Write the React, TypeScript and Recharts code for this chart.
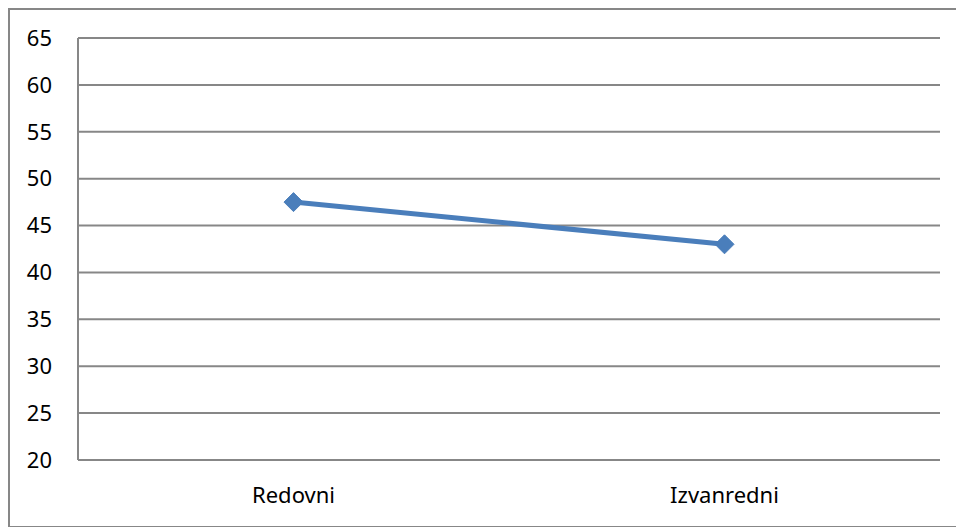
import { LineChart, Line, XAxis, YAxis, CartesianGrid } from "recharts";

const categories = ["Redovni", "Izvanredni"];
const values = [47.5, 43];
const yTicks = [20, 25, 30, 35, 40, 45, 50, 55, 60, 65];

const data = categories.map((name, i) => ({ name, value: values[i] }));

const gridColor = "#878787";
const lineColor = "#4a7ebb";
const font = "'Noto Sans', sans-serif";

function Diamond(props: any) {
  const { cx, cy } = props;
  if (cx == null || cy == null) return null;
  const r = 9.5;
  return (
    <path
      d={`M${cx},${cy - r} L${cx + r},${cy} L${cx},${cy + r} L${cx - r},${cy} Z`}
      fill={lineColor}
      stroke={lineColor}
      strokeWidth={1} />);
}

export default function App() {
  return (
    <div style={{ position: "absolute", left: 0, top: 0, width: 956, height: 527, overflow: "hidden", background: "#fff" }}>
      <div
        style={{
          position: "absolute",
          left: 8,
          top: 8,
          width: 960,
          height: 516,
          border: `2px solid ${gridColor}`
        }} />
      <div style={{ position: "absolute", left: 0, top: 0 }}>
        <LineChart
          width={956}
          height={527}
          data={data}
          margin={{ top: 38, right: 16, bottom: 37, left: 0 }}>
          <CartesianGrid vertical={false} stroke={gridColor} strokeWidth={2} />
          <XAxis
            dataKey="name"
            scale="band"
            axisLine={{ stroke: gridColor, strokeWidth: 2 }}
            tickLine={false}
            tickSize={0}
            tickMargin={27}
            tick={{ fill: "#000", fontSize: 22, fontFamily: font }} />
          <YAxis
            width={78}
            domain={[20, 65]}
            ticks={yTicks}
            interval={0}
            axisLine={{ stroke: gridColor, strokeWidth: 2 }}
            tickLine={false}
            tickSize={0}
            tickMargin={26}
            tick={{ fill: "#000", fontSize: 22, fontFamily: font }} />
          <Line
            type="linear"
            dataKey="value"
            stroke={lineColor}
            strokeWidth={5}
            dot={<Diamond />}
            activeDot={false}
            isAnimationActive={false} />
        </LineChart>
      </div>
    </div>);
}
